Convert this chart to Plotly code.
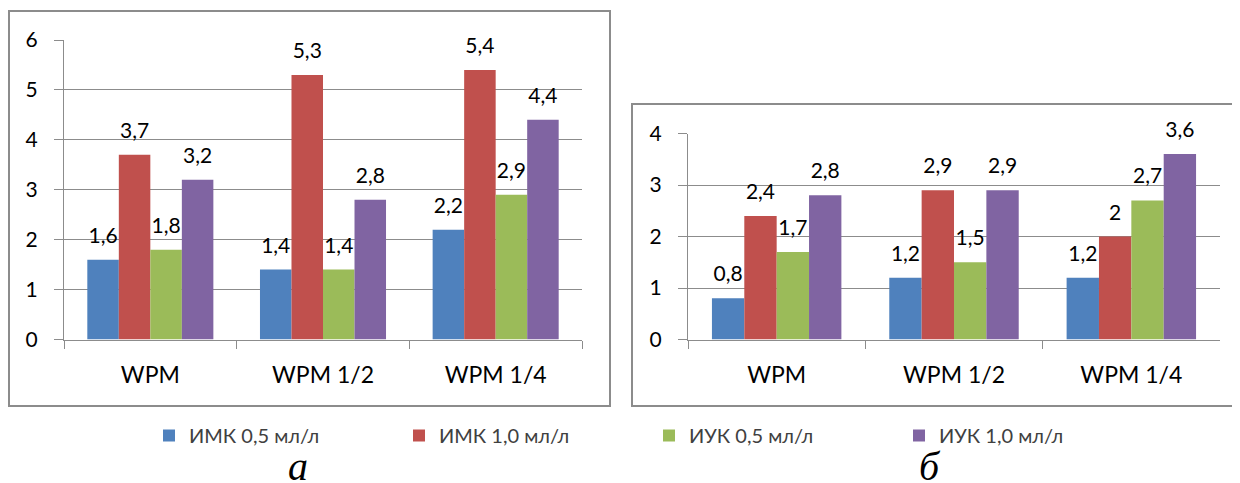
import plotly.graph_objects as go

categories = ["WPM", "WPM 1/2", "WPM 1/4"]
series_names = ["ИМК 0,5 мл/л", "ИМК 1,0 мл/л", "ИУК 0,5 мл/л", "ИУК 1,0 мл/л"]
colors = ["#4F81BD", "#C0504D", "#9BBB59", "#8064A2"]

# chart а
a_imk05 = [1.6, 1.4, 2.2]
a_imk10 = [3.7, 5.3, 5.4]
a_iuk05 = [1.8, 1.4, 2.9]
a_iuk10 = [3.2, 2.8, 4.4]
# chart б
b_imk05 = [0.8, 1.2, 1.2]
b_imk10 = [2.4, 2.9, 2.0]
b_iuk05 = [1.7, 1.5, 2.7]
b_iuk10 = [2.8, 2.9, 3.6]

a_series = [a_imk05, a_imk10, a_iuk05, a_iuk10]
b_series = [b_imk05, b_imk10, b_iuk05, b_iuk10]

# page is 1240x483 but the page body has an 8px margin
OFF = 8
W, H = 1240 - OFF, 483 - OFF
FONT = "Lato"
GRID = "#8c8c8c"
LABEL_LIFT_PX = 10  # extra gap between bar top and its value label


def fmt(v):
    return f"{v:g}".replace(".", ",")


def px_x(p):
    return (p - OFF) / W


def px_y(p):
    return 1 - (p - OFF) / H


# plot areas in page pixels
A_X0, A_X1, A_Y0, A_Y1 = 64, 582, 339.5, 40      # y0 = value 0, y1 = value 6
B_X0, B_X1, B_Y0, B_Y1 = 688, 1220, 339.5, 133.5  # y1 = value 4
A_MAX, B_MAX = 6, 4
a_lift = LABEL_LIFT_PX * A_MAX / (A_Y0 - A_Y1)
b_lift = LABEL_LIFT_PX * B_MAX / (B_Y0 - B_Y1)

fig = go.Figure()


def add_chart(series, xa, ya, lift, show):
    for i, (name, vals) in enumerate(zip(series_names, series)):
        fig.add_trace(go.Bar(
            x=categories, y=vals, name=name, marker_color=colors[i],
            marker_line_width=0, offsetgroup=str(i), legendgroup=name,
            showlegend=show, xaxis=xa, yaxis=ya, hoverinfo="x+y+name"))
        # transparent spacer carrying the value label slightly above the bar
        fig.add_trace(go.Bar(
            x=categories, y=[lift] * len(vals), base=vals, name=name,
            marker_color="rgba(0,0,0,0)", marker_line_width=0, offsetgroup=str(i),
            text=[fmt(v) for v in vals], textposition="outside",
            textfont=dict(family=FONT, size=21, color="#000"), constraintext="none",
            cliponaxis=False, legendgroup=name, showlegend=False,
            xaxis=xa, yaxis=ya, hoverinfo="skip"))


add_chart(a_series, "x", "y", a_lift, True)
add_chart(b_series, "x2", "y2", b_lift, False)

xcommon = dict(type="category", showline=True, linecolor=GRID, linewidth=1.3,
               ticks="outside", tickson="boundaries", ticklen=8, tickcolor=GRID,
               tickwidth=1.3, tickfont=dict(family=FONT, size=23, color="#000"),
               ticklabelstandoff=15, showgrid=False, zeroline=False, fixedrange=True)
ycommon = dict(showline=True, linecolor=GRID, linewidth=1.3, ticks="outside",
               ticklen=9, tickcolor=GRID, tickwidth=1.3, showgrid=True,
               gridcolor=GRID, gridwidth=1.3,
               tickfont=dict(family=FONT, size=21, color="#000"), dtick=1,
               zeroline=False, fixedrange=True, ticklabelstandoff=12)

fig.update_layout(
    width=W, height=H, margin=dict(l=0, r=0, t=0, b=0, autoexpand=False),
    paper_bgcolor="white", plot_bgcolor="white",
    barmode="group", bargap=0.27, bargroupgap=0,
    xaxis=dict(domain=[px_x(A_X0), px_x(A_X1)], anchor="y", **xcommon),
    yaxis=dict(domain=[px_y(A_Y0), px_y(A_Y1)], range=[0, A_MAX], anchor="x", **ycommon),
    xaxis2=dict(domain=[px_x(B_X0), px_x(B_X1)], anchor="y2", **xcommon),
    yaxis2=dict(domain=[px_y(B_Y0), px_y(B_Y1)], range=[0, B_MAX], anchor="x2", **ycommon),
    legend=dict(orientation="h", x=px_x(149), xanchor="left", y=px_y(435.5), yanchor="middle",
                font=dict(family=FONT, size=20, color="#404040"),
                entrywidth=205, entrywidthmode="pixels", itemwidth=30,
                bgcolor="rgba(0,0,0,0)", traceorder="normal"),
    shapes=[
        dict(type="rect", xref="paper", yref="paper", x0=px_x(9), x1=px_x(610),
             y0=px_y(406), y1=px_y(11), line=dict(color=GRID, width=2)),
        dict(type="rect", xref="paper", yref="paper", x0=px_x(632), x1=px_x(1237),
             y0=px_y(406), y1=px_y(104), line=dict(color=GRID, width=2)),
    ],
    annotations=[
        dict(text="а", xref="paper", yref="paper", x=px_x(298), y=0, yshift=-8,
             showarrow=False, font=dict(family="Liberation Serif", size=40, color="#000"),
             xanchor="center", yanchor="bottom", height=40, valign="bottom"),
        dict(text="б", xref="paper", yref="paper", x=px_x(930), y=0, yshift=-8,
             showarrow=False, font=dict(family="Liberation Serif", size=40, color="#000"),
             xanchor="center", yanchor="bottom", height=40, valign="bottom"),
    ],
)
fig.update_annotations(font_style="italic")

fig.write_html("out.html")
